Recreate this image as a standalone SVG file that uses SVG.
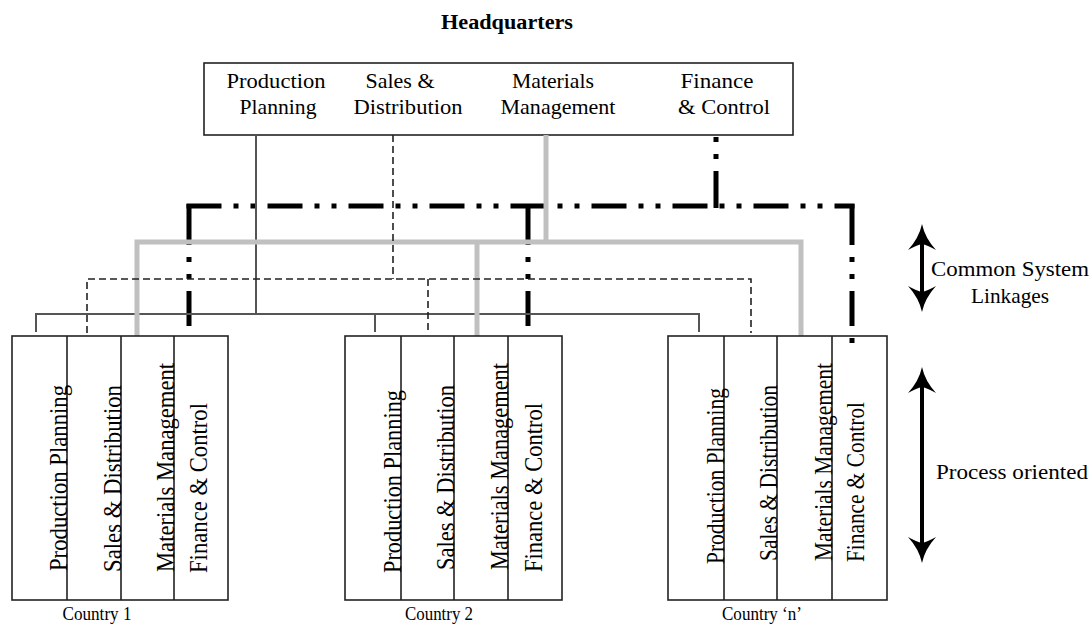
<svg xmlns="http://www.w3.org/2000/svg" width="1091" height="625" viewBox="0 0 1091 625">
<defs>
<style>
text{font-family:"Liberation Serif","Times New Roman",serif;fill:#000}
.title{font-size:20px;font-weight:bold;text-anchor:middle}
.hq{font-size:22px;text-anchor:middle}
.col{font-size:26px}
.cty{font-size:19px;text-anchor:middle}
.side{font-size:21px;text-anchor:middle}
.box{fill:none;stroke:#222;stroke-width:1.6}
.div{fill:none;stroke:#222;stroke-width:1.6}
.pp{fill:none;stroke:#555;stroke-width:2}
.sd{fill:none;stroke:#222;stroke-width:1.6;stroke-dasharray:7 4}
.mm{fill:none;stroke:#c0c0c0;stroke-width:5}
.fc{fill:none;stroke:#000;stroke-width:5;stroke-dasharray:35 12 5 12 5 12}
.fcv{fill:none;stroke:#000;stroke-width:5;stroke-dasharray:41 12 5 12 5 12 35 12 5 12 5 12}
.arr{fill:none;stroke:#000;stroke-width:4;marker-start:url(#head);marker-end:url(#head)}
</style>
<marker id="head" markerUnits="userSpaceOnUse" viewBox="0 -15 30 30" refX="6" refY="0" markerWidth="30" markerHeight="30" orient="auto-start-reverse">
<path d="M26,0 Q12,-3 0,-14 Q5,-5 6,0 Q5,5 0,14 Q12,3 26,0Z" fill="#000"/>
</marker>
</defs>
<rect width="1091" height="625" fill="#fff"/>

<!-- headquarters -->
<g id="hq">
<text class="title" x="507" y="29" textLength="132" lengthAdjust="spacingAndGlyphs">Headquarters</text>
<rect class="box" x="204" y="63" width="589" height="72"/>
<text class="hq" x="276" y="88" textLength="99" lengthAdjust="spacingAndGlyphs">Production</text>
<text class="hq" x="278" y="114" textLength="77" lengthAdjust="spacingAndGlyphs">Planning</text>
<text class="hq" x="400" y="88" textLength="69" lengthAdjust="spacingAndGlyphs">Sales &amp;</text>
<text class="hq" x="408" y="114" textLength="109" lengthAdjust="spacingAndGlyphs">Distribution</text>
<text class="hq" x="553" y="88" textLength="82" lengthAdjust="spacingAndGlyphs">Materials</text>
<text class="hq" x="558" y="114" textLength="115" lengthAdjust="spacingAndGlyphs">Management</text>
<text class="hq" x="717" y="88" textLength="73" lengthAdjust="spacingAndGlyphs">Finance</text>
<text class="hq" x="724" y="114" textLength="92" lengthAdjust="spacingAndGlyphs">&amp; Control</text>
</g>

<!-- linkages between headquarters and the country units -->
<g id="connectors">
<!-- finance & control: heavy dash-dot -->
<path class="fc" d="M716,208 V135" style="stroke-dasharray:37 12 5 12 5 12"/>
<path class="fc" d="M186.5,206 H854.5"/>
<path class="fcv" d="M189,204 V327"/>
<path class="fcv" d="M528,204 V327"/>
<path class="fcv" d="M852,204 V344"/>
<!-- production planning: thin solid -->
<path class="pp" d="M256,135 V314"/>
<path class="pp" d="M36,332 V314 H699 V332"/>
<path class="pp" d="M375,314 V332"/>
<!-- materials management: wide grey -->
<path class="mm" d="M546,135 V242"/>
<path class="mm" d="M137,336 V242 H801 V336"/>
<path class="mm" d="M477,242 V336"/>
<!-- sales & distribution: thin dashed -->
<path class="sd" d="M393,135 V279"/>
<path class="sd" d="M87,333 V279 H751 V333"/>
<path class="sd" d="M428,279 V333"/>
</g>

<!-- country units -->
<g id="country-1">
<rect class="box" x="12" y="336" width="216" height="264"/>
<path class="div" d="M67,336 V600 M121,336 V600 M174,336 V600"/>
<text class="col" transform="translate(67,571) rotate(-90)" textLength="186" lengthAdjust="spacingAndGlyphs">Production Planning</text>
<text class="col" transform="translate(121,572) rotate(-90)" textLength="187" lengthAdjust="spacingAndGlyphs">Sales &amp; Distribution</text>
<text class="col" transform="translate(174,572) rotate(-90)" textLength="209" lengthAdjust="spacingAndGlyphs">Materials Management</text>
<text class="col" transform="translate(207,573) rotate(-90)" textLength="170" lengthAdjust="spacingAndGlyphs">Finance &amp; Control</text>
<text class="cty" x="97" y="620" textLength="69" lengthAdjust="spacingAndGlyphs">Country 1</text>
</g>

<g id="country-2">
<rect class="box" x="345" y="336" width="217" height="264"/>
<path class="div" d="M401,336 V600 M454,336 V600 M508,336 V600"/>
<text class="col" transform="translate(401,573) rotate(-90)" textLength="183" lengthAdjust="spacingAndGlyphs">Production Planning</text>
<text class="col" transform="translate(454,570) rotate(-90)" textLength="185" lengthAdjust="spacingAndGlyphs">Sales &amp; Distribution</text>
<text class="col" transform="translate(508,570) rotate(-90)" textLength="207" lengthAdjust="spacingAndGlyphs">Materials Management</text>
<text class="col" transform="translate(542,572) rotate(-90)" textLength="169" lengthAdjust="spacingAndGlyphs">Finance &amp; Control</text>
<text class="cty" x="439" y="620" textLength="68" lengthAdjust="spacingAndGlyphs">Country 2</text>
</g>

<g id="country-n">
<rect class="box" x="668" y="336" width="219" height="264"/>
<path class="div" d="M724,336 V600 M777,336 V600 M832,336 V600"/>
<text class="col" transform="translate(724,564) rotate(-90)" textLength="176" lengthAdjust="spacingAndGlyphs">Production Planning</text>
<text class="col" transform="translate(777,561) rotate(-90)" textLength="176" lengthAdjust="spacingAndGlyphs">Sales &amp; Distribution</text>
<text class="col" transform="translate(832,561) rotate(-90)" textLength="198" lengthAdjust="spacingAndGlyphs">Materials Management</text>
<text class="col" transform="translate(864,562) rotate(-90)" textLength="160" lengthAdjust="spacingAndGlyphs">Finance &amp; Control</text>
<text class="cty" x="762" y="620" textLength="80" lengthAdjust="spacingAndGlyphs">Country ‘n’</text>
</g>

<!-- scope arrows -->
<g id="common-system-linkages">
<path class="arr" d="M922,244 V292"/>
<text class="side" x="1010" y="276" textLength="158" lengthAdjust="spacingAndGlyphs">Common System</text>
<text class="side" x="1010" y="303" textLength="78" lengthAdjust="spacingAndGlyphs">Linkages</text>
</g>
<g id="process-oriented">
<path class="arr" d="M922,387 V543"/>
<text class="side" x="1012" y="479" textLength="152" lengthAdjust="spacingAndGlyphs">Process oriented</text>
</g>
</svg>
